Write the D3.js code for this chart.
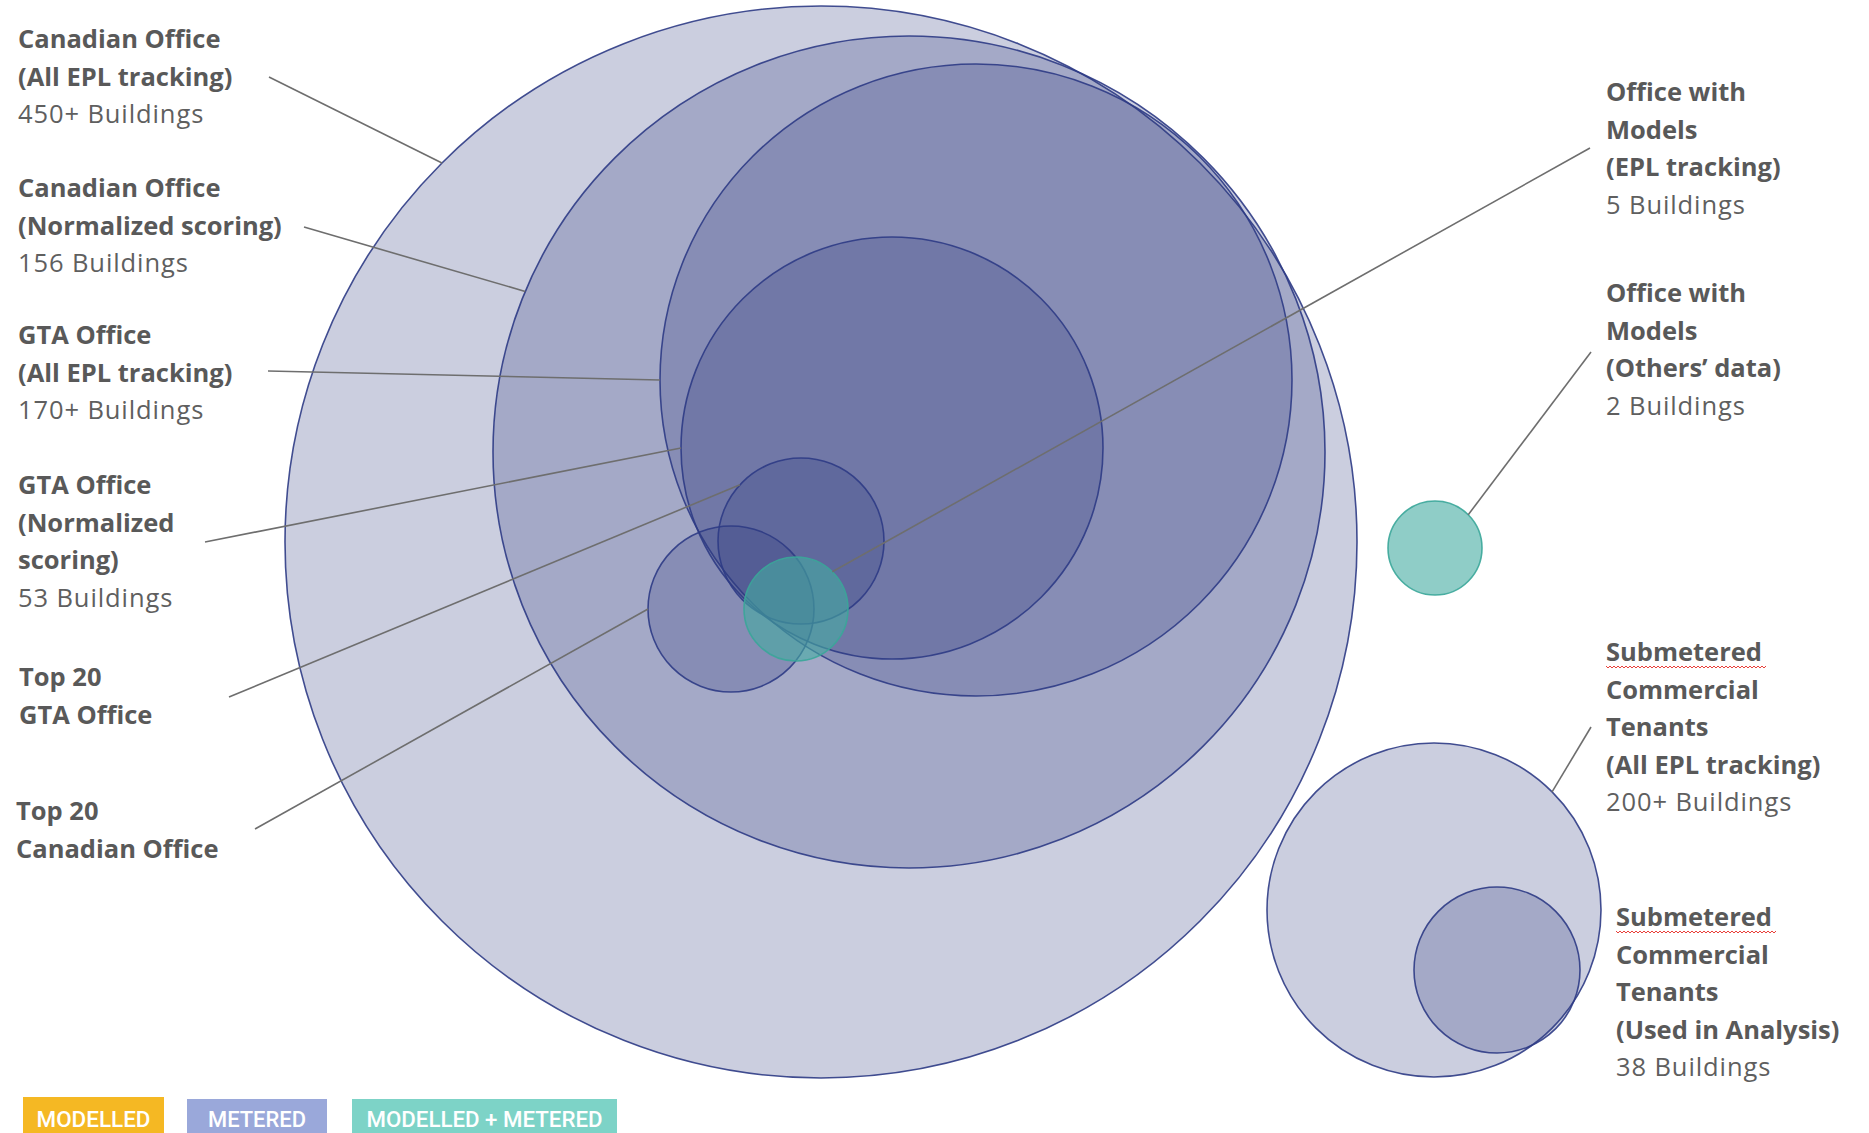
<!DOCTYPE html>
<html>
<head>
<meta charset="utf-8">
<script src="https://cdn.jsdelivr.net/npm/d3@7"></script>
<style>
  html, body { margin: 0; padding: 0; background: #fff; }
  svg { display: block; }
</style>
</head>
<body>
<svg id="chart" width="1869" height="1133"></svg>
<script>
// circles (layout units)
var circleNames  = ["Canadian Office (All EPL)", "Canadian Office (Normalized)", "GTA Office (All EPL)",
                    "GTA Office (Normalized)", "Top 20 Canadian Office", "Top 20 GTA Office",
                    "Office with Models (EPL)", "Office with Models (Others)",
                    "Submetered Tenants (All EPL)", "Submetered Tenants (Analysis)"];
var circleKind   = ["metered", "metered", "metered", "metered", "metered", "metered",
                    "both", "both", "metered", "metered"];
var circleX      = [821, 909, 976, 892, 731, 801, 796, 1435, 1434, 1497];
var circleY      = [542, 452, 380, 448, 609, 541, 609, 548, 910, 970];
var circleR      = [536, 416, 316, 211, 83, 83, 52, 47, 167, 83];

// labels
var labelTitles  = [["Canadian Office", "(All EPL tracking)"],
                    ["Canadian Office", "(Normalized scoring)"],
                    ["GTA Office", "(All EPL tracking)"],
                    ["GTA Office", "(Normalized", "scoring)"],
                    ["Top 20", "GTA Office"],
                    ["Top 20", "Canadian Office"],
                    ["Office with", "Models", "(EPL tracking)"],
                    ["Office with", "Models", "(Others\u2019 data)"],
                    ["Submetered", "Commercial", "Tenants", "(All EPL tracking)"],
                    ["Submetered", "Commercial", "Tenants", "(Used in Analysis)"]];
var labelCounts  = ["450+ Buildings", "156 Buildings", "170+ Buildings", "53 Buildings", "", "",
                    "5 Buildings", "2 Buildings", "200+ Buildings", "38 Buildings"];
var labelCircle  = [0, 1, 2, 3, 5, 4, 6, 7, 8, 9];
var labelX       = [18, 18, 18, 18, 19, 16, 1606, 1606, 1606, 1616];
var labelY       = [48, 197, 344, 494, 686, 820, 101, 302, 661, 926];

// leader lines: start point near label, end on circle edge at angle (deg)
var leaderStartX = [269, 304, 268, 205, 229, 255, 1590, 1591, 1591, null];
var leaderStartY = [77, 227, 371, 542, 697, 829, 148, 352, 727, null];
var leaderAngle  = [-135, -157.3, 180, 180, -137.4, 180, -45.7, -45, -45, null];

// legend
var legendNames  = ["MODELLED", "METERED", "MODELLED + METERED"];
var legendColors = ["#F5B823", "#9AA8DA", "#7DD3C7"];

var svg = d3.select("#chart");
var width = 1869, height = 1133;

var x = d3.scaleLinear().domain([0, 1869]).range([0, width]);
var y = d3.scaleLinear().domain([0, 1133]).range([0, height]);
var rs = d3.scaleLinear().domain([0, 1869]).range([0, width]);

var fillFor = { metered: "#2F3C7E", both: "#44ACA2" };
var strokeFor = { metered: "#2E3B85", both: "#3AA699" };
var opacityFor = { metered: 0.25, both: 0.6 };

var circles = circleNames.map(function(n, i) {
  return { name: n, kind: circleKind[i], cx: circleX[i], cy: circleY[i], r: circleR[i] };
});

svg.append("g").selectAll("circle")
  .data(circles)
  .join("circle")
    .attr("cx", function(d) { return x(d.cx); })
    .attr("cy", function(d) { return y(d.cy); })
    .attr("r", function(d) { return rs(d.r); })
    .attr("fill", function(d) { return fillFor[d.kind]; })
    .attr("fill-opacity", function(d) { return opacityFor[d.kind]; })
    .attr("stroke", function(d) { return strokeFor[d.kind]; })
    .attr("stroke-opacity", 0.9)
    .attr("stroke-width", 1.6);

// leader lines
var leaders = [];
labelCircle.forEach(function(ci, i) {
  if (leaderStartX[i] == null) return;
  var c = circles[ci], a = leaderAngle[i] * Math.PI / 180;
  leaders.push({ x1: leaderStartX[i], y1: leaderStartY[i],
                 x2: c.cx + c.r * Math.cos(a), y2: c.cy + c.r * Math.sin(a) });
});

svg.append("g").selectAll("line")
  .data(leaders)
  .join("line")
    .attr("x1", function(d) { return x(d.x1); })
    .attr("y1", function(d) { return y(d.y1); })
    .attr("x2", function(d) { return x(d.x2); })
    .attr("y2", function(d) { return y(d.y2); })
    .attr("stroke", "#6E6E6E")
    .attr("stroke-width", 1.6);

// labels
var lineGap = 37.5;
var labelG = svg.append("g")
  .attr("font-family", "'Open Sans', Lato, sans-serif")
  .attr("font-size", 25.5)
  .attr("fill", "#595959");

labelTitles.forEach(function(lines, i) {
  var g = labelG.append("g");
  lines.forEach(function(t, j) {
    var txt = g.append("text")
      .attr("x", x(labelX[i]))
      .attr("y", y(labelY[i] + j * lineGap))
      .attr("font-weight", "bold")
      .text(t);
    // spell-check squiggle under "Submetered"
    if (t === "Submetered") {
      var w = txt.node().getComputedTextLength() + 4;
      var x0 = x(labelX[i]), y0 = y(labelY[i]) + 5, p = "M" + x0 + "," + y0;
      for (var k = 0; k * 2 < w; k++) p += "L" + (x0 + k * 2 + 2) + "," + (y0 + (k % 2 ? 0 : 2));
      g.append("path").attr("d", p).attr("fill", "none")
        .attr("stroke", "#E8403A").attr("stroke-width", 1);
    }
  });
  if (labelCounts[i]) {
    g.append("text")
      .attr("x", x(labelX[i]))
      .attr("y", y(labelY[i] + lines.length * lineGap))
      .attr("fill", "#5F5F5F")
      .attr("letter-spacing", 0.9)
      .text(labelCounts[i]);
  }
});

// legend boxes along the bottom
var legendX = [23, 187, 352], legendW = [141, 140, 265], legendTextW = [114, 98, 236];
var legend = svg.append("g");
legendNames.forEach(function(n, i) {
  legend.append("rect")
    .attr("x", legendX[i]).attr("y", i === 0 ? 1097 : 1099)
    .attr("width", legendW[i]).attr("height", 40)
    .attr("fill", legendColors[i]);
  legend.append("text")
    .attr("x", legendX[i] + legendW[i] / 2)
    .attr("y", 1127)
    .attr("text-anchor", "middle")
    .attr("font-family", "Roboto, sans-serif")
    .attr("font-size", 22)
    .attr("font-weight", 500)
    .attr("fill", "#fff")
    .attr("textLength", legendTextW[i])
    .attr("lengthAdjust", "spacingAndGlyphs")
    .text(n);
});
</script>
</body>
</html>
